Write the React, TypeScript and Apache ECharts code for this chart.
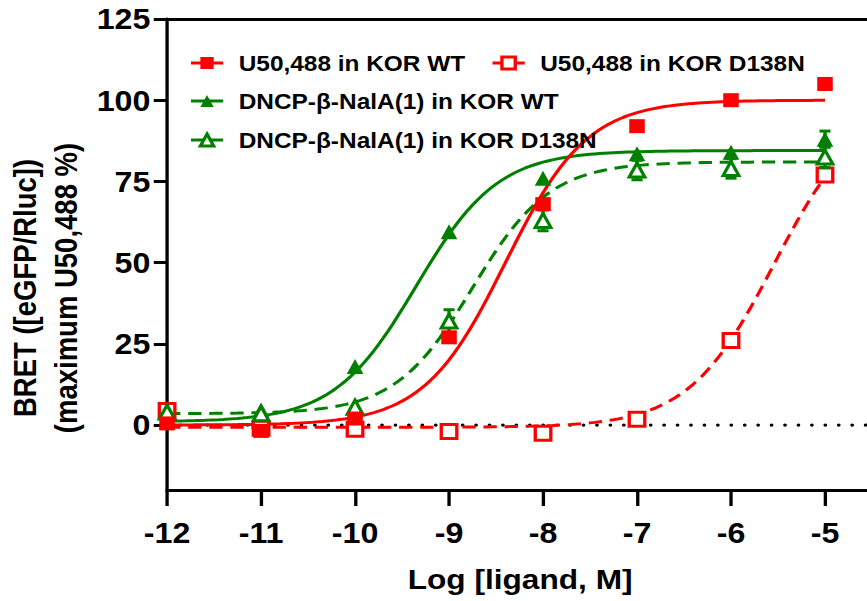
import React, { useEffect, useRef } from "react";
import * as echarts from "echarts";

// Layout is authored on a 781px-wide canvas and stretched horizontally to 867px.
const BASE_W = 781;
const BASE_H = 601;
const STRETCH = 867 / BASE_W;

const FONT = "'Liberation Sans', Arial, Helvetica, sans-serif";
const RED = "#ff0000";
const GREEN = "#008000";

// Log ligand concentrations (M)
const logDose = [-12, -11, -10, -9, -8, -7, -6, -5];

// Mean BRET responses (% of maximum U50,488)
const u50488Wt = [0.5, -1.8, 2, 27, 68, 92, 100, 105];
const u50488D138N = [4.5, -1, -1.3, -2, -2.5, 1.8, 26, 77];
const dncpWt = [1, 4.6, 18, 59.5, 76, 83.5, 84, 88];
const dncpD138N = [4, 3.5, 5.5, 32, 63, 78.5, 79, 82.5];

// SEM (0 where the bar stays inside the symbol)
const u50488WtErr = [0, 0, 0, 0, 0, 0, 0, 0];
const u50488D138NErr = [0, 0, 0, 0, 0, 0, 1.5, 0];
const dncpWtErr = [0, 0, 0, 0, 0, 0, 0, 2.5];
const dncpD138NErr = [0, 0, 0, 3.5, 3.2, 3, 3, 3.2];

// Four-parameter logistic fits: [U50 WT, U50 D138N, DNCP WT, DNCP D138N]
const fitBottom = [0, -0.7, 1, 3.5];
const fitTop = [100, 100, 84.5, 81];
const fitLogEC50 = [-8.4, -5.54, -9.35, -8.75];
const fitHill = [1, 0.95, 1, 1.05];

const seriesNames = [
  "U50,488 in KOR WT",
  "U50,488 in KOR D138N",
  "DNCP-β-NalA(1) in KOR WT",
  "DNCP-β-NalA(1) in KOR D138N",
];

const xTicks = [-12, -11, -10, -9, -8, -7, -6, -5];
const yTicks = [0, 25, 50, 75, 100, 125];
const xMin = -12;
const xMax = -4.553;
const yMin = -20;
const yMax = 125;

const xTitle = "Log [ligand, M]";
const yTitleLines = ["BRET ([eGFP/Rluc])", "(maximum U50,488 %)"];

function fitCurve(k: number): number[][] {
  const pts: number[][] = [];
  for (let i = 0; i <= 140; i++) {
    const x = -12 + i * 0.05;
    const y =
      fitBottom[k] +
      (fitTop[k] - fitBottom[k]) /
        (1 + Math.pow(10, (fitLogEC50[k] - x) * fitHill[k]));
    pts.push([x, y]);
  }
  return pts;
}

function curveSeries(k: number, color: string, dashed: boolean, symbol: string) {
  return {
    type: "line",
    name: seriesNames[k],
    data: fitCurve(k),
    z: 2,
    showSymbol: false,
    symbol,
    smooth: false,
    lineStyle: {
      color,
      width: 3,
      type: dashed ? [12, 7] : "solid",
    },
    itemStyle: { color },
    silent: true,
  };
}

function errorBars(values: number[], errors: number[], color: string, z: number) {
  return {
    type: "custom",
    z,
    silent: true,
    encode: { x: 0, y: 1 },
    data: logDose.map((x, i) => [x, values[i], errors[i]]),
    renderItem: (_params: any, api: any) => {
      const x = api.value(0);
      const y = api.value(1);
      const e = api.value(2);
      if (!e) return undefined;
      const hi = api.coord([x, y + e]);
      const lo = api.coord([x, y - e]);
      const hw = 5;
      const style = { stroke: color, lineWidth: 3, fill: "none" };
      return {
        type: "group",
        children: [
          { type: "line", shape: { x1: hi[0], y1: hi[1], x2: lo[0], y2: lo[1] }, style },
          { type: "line", shape: { x1: hi[0] - hw, y1: hi[1], x2: hi[0] + hw, y2: hi[1] }, style },
          { type: "line", shape: { x1: lo[0] - hw, y1: lo[1], x2: lo[0] + hw, y2: lo[1] }, style },
        ],
      };
    },
  };
}

function pointSeries(
  values: number[],
  color: string,
  symbol: string,
  size: number,
  hollow: boolean,
  z: number
) {
  return {
    type: "scatter",
    z,
    silent: true,
    symbol,
    symbolSize: size,
    data: logDose.map((x, i) => [x, values[i]]),
    itemStyle: hollow
      ? { color: "#ffffff", borderColor: color, borderWidth: 3, opacity: 1 }
      : { color, opacity: 1 },
  };
}

const legendText = {
  color: "#000",
  fontSize: 22,
  fontWeight: "bold",
  fontFamily: FONT,
  padding: [0, 0, 0, 9],
};

function legendBlock(items: any[], top: number) {
  return {
    data: items,
    left: 170.5,
    top,
    padding: 0,
    orient: "horizontal",
    itemGap: 23,
    itemWidth: 29,
    itemHeight: 15,
    selectedMode: false,
    textStyle: legendText,
    lineStyle: { type: "solid", width: 3 },
  };
}

const hollowRed = { color: "#ffffff", borderColor: RED, borderWidth: 3 };
const hollowGreen = { color: "#ffffff", borderColor: GREEN, borderWidth: 3 };

const axisColor = "#000";

const option: any = {
  animation: false,
  textStyle: { fontFamily: FONT },
  grid: { left: 150.5, right: 0, top: 19, bottom: 111, containLabel: false },
  legend: [
    legendBlock(
      [
        { name: seriesNames[0] },
        { name: seriesNames[1], itemStyle: hollowRed },
      ],
      52
    ),
    legendBlock([{ name: seriesNames[2] }], 90),
    legendBlock([{ name: seriesNames[3], itemStyle: hollowGreen }], 129),
  ],
  xAxis: [
    {
      type: "value",
      position: "bottom",
      min: xMin,
      max: xMax,
      axisLine: { show: true, onZero: false, lineStyle: { color: axisColor, width: 3 } },
      axisTick: { show: true, length: 16, customValues: xTicks, lineStyle: { color: axisColor, width: 3 } },
      axisLabel: {
        customValues: xTicks,
        margin: 28,
        color: "#000",
        fontSize: 29,
        fontWeight: "bold",
        fontFamily: FONT,
      },
      splitLine: { show: false },
    },
    {
      type: "value",
      position: "top",
      min: xMin,
      max: xMax,
      axisLine: { show: true, onZero: false, lineStyle: { color: axisColor, width: 3 } },
      axisTick: { show: false },
      axisLabel: { show: false },
      splitLine: { show: false },
    },
  ],
  yAxis: {
    type: "value",
    min: yMin,
    max: yMax,
    axisLine: { show: true, onZero: false, lineStyle: { color: axisColor, width: 3 } },
    axisTick: { show: true, length: 12, customValues: yTicks, lineStyle: { color: axisColor, width: 3 } },
    axisLabel: {
      customValues: yTicks,
      margin: 15,
      color: "#000",
      fontSize: 29,
      fontWeight: "bold",
      fontFamily: FONT,
    },
    splitLine: { show: false },
  },
  graphic: [
    {
      type: "text",
      x: 23.4,
      y: 288,
      rotation: Math.PI / 2,
      style: {
        text: yTitleLines[0],
        fill: "#000",
        fontSize: 27.5,
        fontWeight: "bold",
        fontFamily: FONT,
        align: "center",
        verticalAlign: "middle",
      },
    },
    {
      type: "text",
      x: 59.5,
      y: 288,
      rotation: Math.PI / 2,
      style: {
        text: yTitleLines[1],
        fill: "#000",
        fontSize: 27.5,
        fontWeight: "bold",
        fontFamily: FONT,
        align: "center",
        verticalAlign: "middle",
      },
    },
    {
      type: "text",
      x: 468.5,
      y: 579,
      style: {
        text: xTitle,
        fill: "#000",
        fontSize: 28.5,
        fontWeight: "bold",
        fontFamily: FONT,
        align: "center",
        verticalAlign: "middle",
      },
    },
  ],
  series: [
    // dotted baseline at zero response
    {
      type: "line",
      z: 1,
      silent: true,
      showSymbol: false,
      data: [
        [xMin, 0],
        [xMax, 0],
      ],
      lineStyle: { color: "#000", width: 3.3, type: [0.1, 12], cap: "round" },
    },
    curveSeries(1, RED, true, "rect"),
    curveSeries(3, GREEN, true, "triangle"),
    curveSeries(2, GREEN, false, "triangle"),
    curveSeries(0, RED, false, "rect"),
    errorBars(u50488D138N, u50488D138NErr, RED, 3),
    pointSeries(u50488D138N, RED, "rect", 14, true, 3),
    errorBars(dncpWt, dncpWtErr, GREEN, 4),
    pointSeries(dncpWt, GREEN, "triangle", 15, false, 4),
    errorBars(dncpD138N, dncpD138NErr, GREEN, 5),
    pointSeries(dncpD138N, GREEN, "triangle", 14, true, 5),
    errorBars(u50488Wt, u50488WtErr, RED, 6),
    pointSeries(u50488Wt, RED, "rect", 14, false, 6),
  ],
};

export default function App() {
  const ref = useRef<HTMLDivElement>(null);

  useEffect(() => {
    if (!ref.current) return;
    const chart = echarts.init(ref.current, undefined, { renderer: "svg" });
    chart.setOption(option);
    return () => {
      chart.dispose();
    };
  }, []);

  return (
    <div
      style={{
        position: "absolute",
        left: 0,
        top: 0,
        width: BASE_W,
        height: BASE_H,
        transform: `scaleX(${STRETCH})`,
        transformOrigin: "0 0",
        background: "#fff",
      }}
    >
      <div ref={ref} style={{ width: BASE_W, height: BASE_H }} />
    </div>
  );
}
